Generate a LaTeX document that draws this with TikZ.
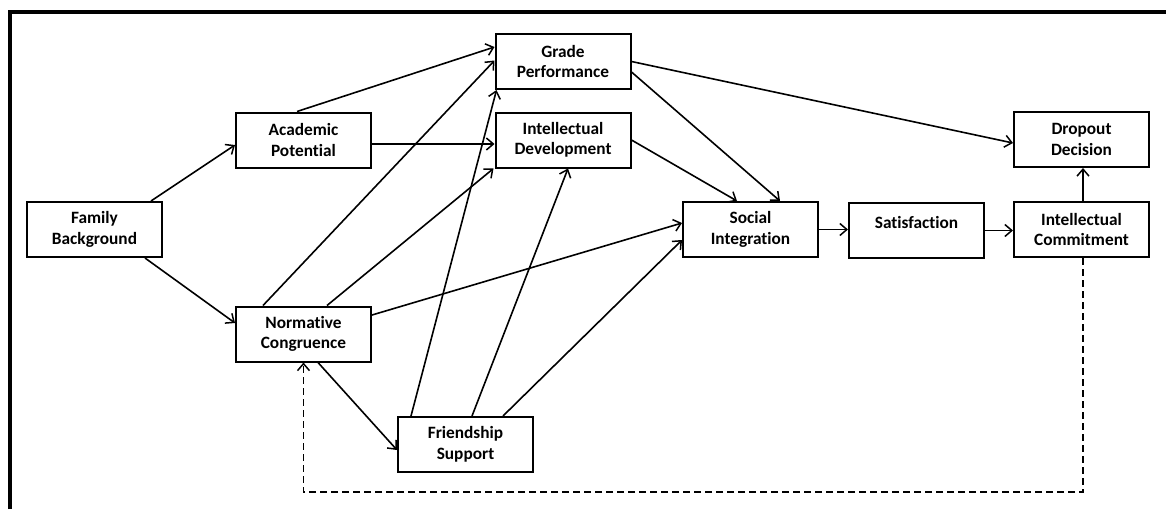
\documentclass[tikz,border=0pt]{standalone}
\usepackage{fontspec}
\setmainfont[Ligatures={NoCommon}]{Carlito}
\usetikzlibrary{arrows.meta}
\begin{document}
\begin{tikzpicture}[x=1pt,y=-1pt,
  box/.style={draw, line width=2pt, minimum width=135pt, minimum height=55pt, align=center,
    inner sep=0pt, font=\bfseries\fontsize{17.3}{20.5}\selectfont},
  conn/.style={line width=1.6pt, -{Straight Barb[length=7pt,width=12pt,line width=1.5pt]}},
  fb/.style={line width=1.6pt, dash pattern=on 7pt off 4pt, -{Straight Barb[length=7pt,width=12pt,line width=1.5pt]}}
]
\useasboundingbox (0,0) rectangle (1166,509);
\draw[line width=4pt] (10,509) -- (10,12) -- (1166,12);

\node[box] (FB) at (94.5,229.5) {Family\\Background};
\node[box] (AP) at (303.5,140) {Academic\\Potential};
\node[box] (NC) at (303.5,334) {Normative\\Congruence};
\node[box] (GP) at (563,61.5) {Grade\\Performance};
\node[box] (ID) at (563,140) {Intellectual\\Development};
\node[box] (SI) at (750.5,229.5) {Social\\Integration};
\node[box] (FS) at (465.5,444.5) {Friendship\\Support};
\node[box] (DD) at (1081.5,139.5) {Dropout\\Decision};
\node[box, text depth=16pt] (SAT) at (916.5,230.5) {Satisfaction};
\node[box] (IC) at (1081.5,229.5) {Intellectual\\Commitment};
\coordinate (loop) at (303.5,492);

\draw[conn] ([xshift=-12pt]FB.north east) -- ([yshift=-5pt]AP.west);
\draw[conn] ([xshift=-18pt]FB.south east) -- ([yshift=11pt]NC.west);
\draw[conn] ([xshift=-6.5pt]AP.north) -- ([yshift=14.5pt]GP.west);
\draw[conn] ([yshift=-4pt]AP.east) -- ([yshift=-4pt]ID.west);
\draw[conn] ([xshift=-40.5pt]NC.north) -- ([yshift=1pt]GP.west);
\draw[conn] ([xshift=23.5pt]NC.north) -- ([xshift=-1pt]ID.south west);
\draw[conn] ([yshift=19pt]NC.east) -- ([yshift=6.5pt]SI.west);
\draw[conn] ([xshift=14.5pt]NC.south) -- ([yshift=-5.5pt]FS.west);
\draw[conn] ([xshift=14pt]FS.north west) -- ([xshift=2pt]GP.south west);
\draw[conn] ([xshift=6.5pt]FS.north) -- ([xshift=5pt]ID.south);
\draw[conn] ([xshift=37.5pt]FS.north) -- ([yshift=-10.5pt]SI.west);
\draw[conn] ([yshift=-10.5pt]GP.east) -- ([xshift=29.5pt]SI.north);
\draw[conn] (ID.east) -- ([xshift=-13.5pt]SI.north);
\draw[conn] (GP.east) -- ([yshift=-3.5pt]DD.west);
\draw[conn] (SI.east) -- (SI.east -| SAT.west);
\draw[conn] (SAT.east) -- (SAT.east -| IC.west);
\draw[conn] ([xshift=1.5pt]IC.north) -- ([xshift=1.5pt]DD.south);
\draw[fb] ([xshift=1.5pt]IC.south) |- (loop) -- (NC.south);
\end{tikzpicture}
\end{document}
